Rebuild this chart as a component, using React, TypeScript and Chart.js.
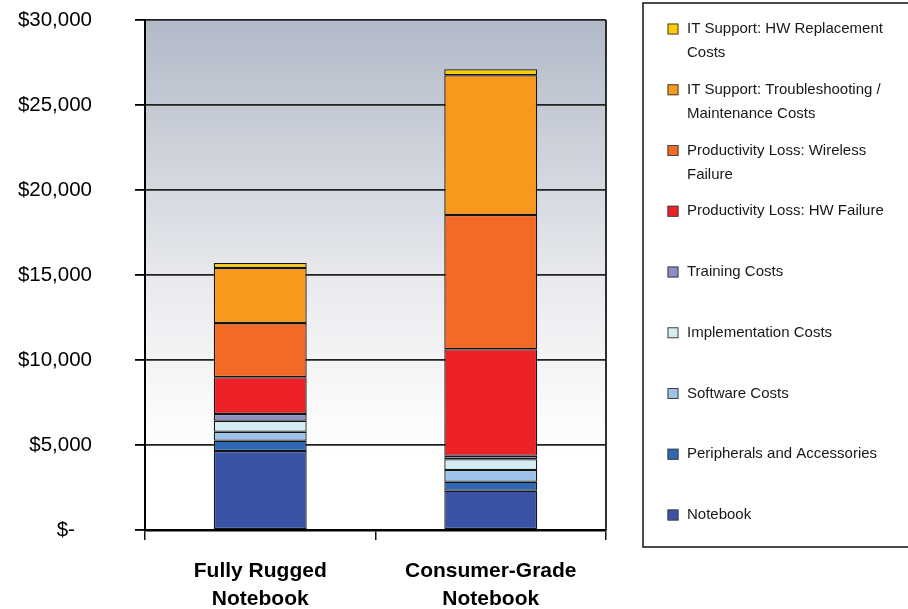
import React, { useEffect, useRef } from 'react';
import { Chart, registerables } from 'chart.js';

Chart.register(...registerables);

// ---- Data ----
const categories: string[][] = [
  ['Fully Rugged', 'Notebook'],
  ['Consumer-Grade', 'Notebook'],
];

// bottom-to-top stacking order
const seriesLegendLines: string[][] = [
  ['Notebook'],
  ['Peripherals and Accessories'],
  ['Software Costs'],
  ['Implementation Costs'],
  ['Training Costs'],
  ['Productivity Loss: HW Failure'],
  ['Productivity Loss: Wireless', 'Failure'],
  ['IT Support: Troubleshooting /', 'Maintenance Costs'],
  ['IT Support: HW Replacement', 'Costs'],
];

const notebook = [4650, 2310];
const peripherals = [600, 530];
const software = [530, 690];
const implementation = [650, 630];
const training = [400, 210];
const hwFailure = [2160, 6260];
const wirelessFailure = [3180, 7900];
const troubleshooting = [3240, 8220];
const hwReplacement = [300, 350];

const seriesValues = [
  notebook,
  peripherals,
  software,
  implementation,
  training,
  hwFailure,
  wirelessFailure,
  troubleshooting,
  hwReplacement,
];

const seriesColors = [
  '#3A53A4',
  '#2F67B3',
  '#9DC4E8',
  '#D3EDF3',
  '#8E90C4',
  '#EC2227',
  '#F26A23',
  '#F8991D',
  '#FFCC05',
];

const yTicks = [0, 5000, 10000, 15000, 20000, 25000, 30000];

const FONT = '"Liberation Sans", Arial, Helvetica, sans-serif';

const bgPlugin = {
  id: 'plotBg',
  beforeDraw(chart: any) {
    const { ctx, chartArea } = chart;
    if (!chartArea) return;
    const { left, right, top, bottom } = chartArea;
    ctx.save();
    const g = ctx.createLinearGradient(0, top, 0, bottom);
    g.addColorStop(0, '#B2BAC8');
    g.addColorStop(0.55, '#ECEDF0');
    g.addColorStop(0.85, '#FFFFFF');
    g.addColorStop(1, '#FFFFFF');
    ctx.fillStyle = g;
    ctx.fillRect(left, top, right - left, bottom - top);
    ctx.restore();
  },
  afterDatasetsDraw(chart: any) {
    const { ctx, chartArea } = chart;
    const { right, top, bottom } = chartArea;
    ctx.save();
    ctx.strokeStyle = '#1a1a1a';
    ctx.lineWidth = 1.8;
    ctx.beginPath();
    ctx.moveTo(right, top);
    ctx.lineTo(right, bottom);
    ctx.stroke();
    ctx.restore();
  },
};

const legendPlugin = {
  id: 'boxLegend',
  afterDraw(chart: any) {
    const ctx = chart.ctx;
    ctx.save();
    ctx.lineWidth = 1.5;
    ctx.strokeStyle = '#111';
    ctx.strokeRect(643, 3, 300, 544);
    ctx.font = `15px ${FONT}`;
    ctx.textBaseline = 'middle';
    ctx.textAlign = 'left';
    const ds = chart.data.datasets;
    for (let k = 0; k < ds.length; k++) {
      const idx = ds.length - 1 - k;
      const d = ds[idx];
      const y = 29 + k * 60.75;
      ctx.fillStyle = d.backgroundColor;
      ctx.fillRect(667.5, y - 5.5, 11, 11);
      ctx.strokeStyle = '#444';
      ctx.lineWidth = 1;
      ctx.strokeRect(668, y - 5, 10, 10);
      ctx.fillStyle = '#1a1718';
      const lines: string[] = seriesLegendLines[idx];
      lines.forEach((ln, j) => ctx.fillText(ln, 687, y + j * 24));
    }
    ctx.restore();
  },
};

export default function App() {
  const ref = useRef<HTMLCanvasElement | null>(null);

  useEffect(() => {
    if (!ref.current) return;
    const chart = new Chart(ref.current, {
      type: 'bar',
      data: {
        labels: categories as any,
        datasets: seriesValues.map((vals, i) => ({
          label: seriesLegendLines[i].join(' '),
          data: vals,
          backgroundColor: seriesColors[i],
          borderColor: '#151515',
          borderWidth: 1.3,
          borderSkipped: false,
          categoryPercentage: 1,
          barPercentage: 0.403,
        })),
      },
      options: {
        responsive: false,
        animation: false,
        layout: { padding: { left: 0, top: 20, right: 302, bottom: 0 } },
        plugins: {
          legend: { display: false },
          tooltip: { enabled: false },
        },
        scales: {
          x: {
            stacked: true,
            afterFit(scale: any) {
              scale.height = 79;
            },
            grid: {
              offset: true,
              drawOnChartArea: false,
              drawTicks: true,
              tickLength: 10,
              color: '#111',
              lineWidth: 1.5,
            },
            border: { display: true, color: '#000', width: 2.5, z: 1 },
            ticks: {
              autoSkip: false,
              maxRotation: 0,
              padding: 18,
              color: '#000',
              font: { family: FONT, size: 21, weight: 'bold', lineHeight: 1.3 },
            },
          },
          y: {
            stacked: true,
            min: 0,
            max: 30000,
            afterFit(scale: any) {
              scale.width = 145;
              scale.paddingTop = 0;
              scale.paddingBottom = 0;
            },
            afterBuildTicks(scale: any) {
              scale.ticks = yTicks.map((v) => ({ value: v }));
            },
            grid: {
              color: '#222',
              lineWidth: 1.8,
              tickLength: 10,
              tickColor: '#000',
            },
            border: { display: true, color: '#000', width: 2 },
            ticks: {
              padding: 43,
              color: '#000',
              font: { family: FONT, size: 20.5 },
              callback: (v: any) =>
                Number(v) === 0 ? '$-   ' : '$' + Number(v).toLocaleString('en-US'),
            },
          },
        },
      },
      plugins: [bgPlugin, legendPlugin],
    });
    return () => chart.destroy();
  }, []);

  return (
    <div style={{ position: 'absolute', left: 0, top: 0, width: 908, height: 609, background: '#fff' }}>
      <canvas ref={ref} width={908} height={609} style={{ display: 'block' }} />
    </div>
  );
}
